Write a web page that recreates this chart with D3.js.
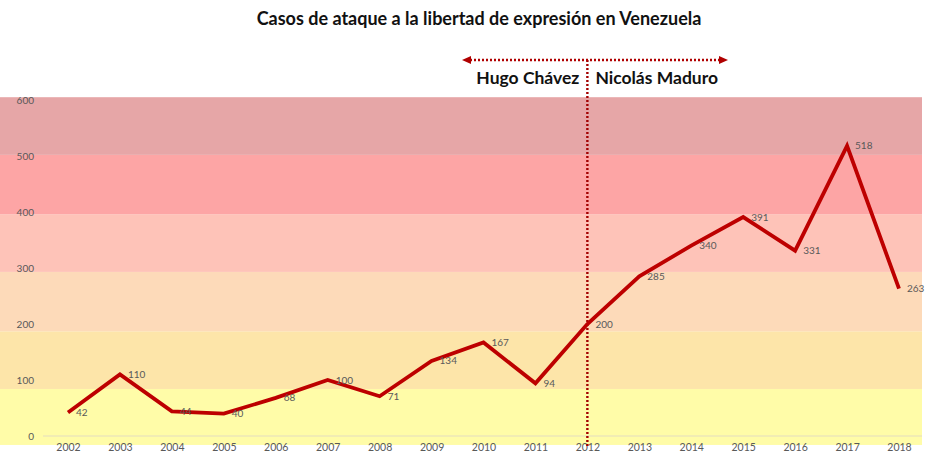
<!DOCTYPE html>
<html>
<head>
<meta charset="utf-8">
<script src="https://cdn.jsdelivr.net/npm/d3@7/dist/d3.min.js"></script>
<style>
  html, body { margin: 0; padding: 0; background: #fff; }
  svg { display: block; }
</style>
</head>
<body>
<svg id="chart" width="940" height="476"></svg>
<script>
const years = ["2002","2003","2004","2005","2006","2007","2008","2009","2010","2011","2012","2013","2014","2015","2016","2017","2018"];
const cases = [42,110,44,40,68,100,71,134,167,94,200,285,340,391,331,518,263];
const yTicks = [0,100,200,300,400,500,600];
const bandBreaks = [-16,84,187,293,396,502,605];
const bandColors = ["#fffca8","#fde5a9","#fddab9","#fec3b8","#fda5a5","#e6a6a7"];
const title = "Casos de ataque a la libertad de expresión en Venezuela";
const leftLabel = "Hugo Chávez";
const rightLabel = "Nicolás Maduro";
const splitYear = "2012";

const svg = d3.select("#chart");
const font = "Lato, 'Open Sans', sans-serif";

const x = d3.scalePoint().domain(years).range([68, 899]);
const y = d3.scaleLinear().domain([0, 600]).range([436, 100]);

// bands
svg.append("g").selectAll("rect")
  .data(d3.range(bandColors.length))
  .join("rect")
  .attr("x", 0)
  .attr("width", 922)
  .attr("y", i => y(bandBreaks[i + 1]))
  .attr("height", i => y(bandBreaks[i]) - y(bandBreaks[i + 1]))
  .attr("fill", i => bandColors[i]);

// zero gridline
svg.append("line")
  .attr("x1", 43).attr("x2", 922)
  .attr("y1", y(0)).attr("y2", y(0))
  .attr("stroke", "#e3dcc0").attr("stroke-width", 1);

// y axis
const yAx = svg.append("g")
  .attr("transform", "translate(38,0)")
  .call(d3.axisLeft(y).tickValues(yTicks).tickSize(0).tickPadding(4));
yAx.select(".domain").remove();
yAx.selectAll("text").attr("fill", "#595959").attr("font-size", 10).attr("font-family", font);

// x axis
const xAx = svg.append("g")
  .attr("transform", "translate(0,443)")
  .call(d3.axisBottom(x).tickSize(0).tickPadding(1));
xAx.select(".domain").remove();
xAx.selectAll("text").attr("fill", "#595959").attr("font-size", 10.5).attr("font-family", font);

// vertical divider
const xs = x(splitYear);
svg.append("line")
  .attr("x1", xs).attr("x2", xs)
  .attr("y1", 60).attr("y2", 447)
  .attr("stroke", "#a30000").attr("stroke-width", 2.4)
  .attr("stroke-dasharray", "2,2");

// horizontal arrow
const ax1 = 470, ax2 = 720, ay = 60;
svg.append("line")
  .attr("x1", ax1).attr("x2", ax2)
  .attr("y1", ay).attr("y2", ay)
  .attr("stroke", "#b00000").attr("stroke-width", 2.4)
  .attr("stroke-dasharray", "2,2");
svg.append("path")
  .attr("d", `M${ax1 - 8},${ay} L${ax1 + 1},${ay - 4} L${ax1 + 1},${ay + 4} Z`)
  .attr("fill", "#b00000");
svg.append("path")
  .attr("d", `M${ax2 + 8},${ay} L${ax2 - 1},${ay - 4} L${ax2 - 1},${ay + 4} Z`)
  .attr("fill", "#b00000");

// period labels
svg.append("text")
  .attr("x", xs - 8).attr("y", 84)
  .attr("text-anchor", "end")
  .attr("font-family", font).attr("font-weight", "bold").attr("font-size", 17.5)
  .attr("fill", "#111").text(leftLabel);
svg.append("text")
  .attr("x", xs + 8).attr("y", 84)
  .attr("text-anchor", "start")
  .attr("font-family", font).attr("font-weight", "bold").attr("font-size", 17.5)
  .attr("fill", "#111").text(rightLabel);

// title
svg.append("text")
  .attr("x", 479).attr("y", 25)
  .attr("text-anchor", "middle")
  .attr("font-family", font).attr("font-weight", "bold").attr("font-size", 18)
  .attr("fill", "#111").text(title);

// line
const line = d3.line().x((d, i) => x(years[i])).y(d => y(d));
svg.append("path")
  .datum(cases)
  .attr("d", line)
  .attr("fill", "none")
  .attr("stroke", "#bd0000")
  .attr("stroke-width", 3.8)
  .attr("stroke-linejoin", "miter");

// data labels
svg.append("g").selectAll("text")
  .data(cases)
  .join("text")
  .attr("x", (d, i) => x(years[i]) + 8)
  .attr("y", d => y(d))
  .attr("dy", "0.35em")
  .attr("font-family", font)
  .attr("font-size", 10)
  .attr("fill", "#595959")
  .text(d => d);
</script>
</body>
</html>
